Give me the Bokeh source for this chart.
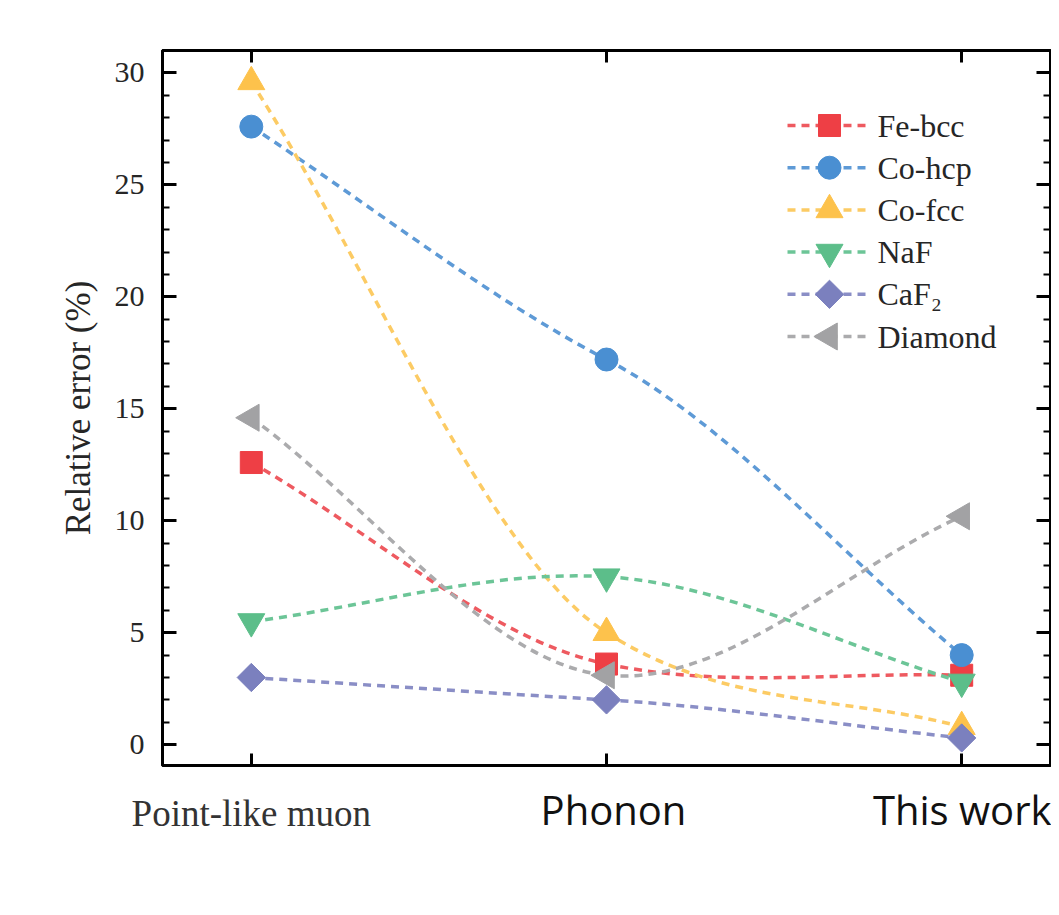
import numpy as np
from bokeh.plotting import figure
from bokeh.models import (Range1d, LinearAxis, FixedTicker, SingleIntervalTicker,
                          ColumnDataSource)
from bokeh.core.properties import value
from bokeh.embed import file_html
from bokeh.resources import INLINE

# ---------------- data ----------------
categories = ["Point-like muon", "Phonon", "This work"]
fe_bcc = [12.6, 3.6, 3.1]
co_hcp = [27.6, 17.2, 4.0]
co_fcc = [29.6, 5.0, 0.8]
naf = [5.5, 7.5, 2.8]
caf2 = [3.0, 2.0, 0.3]
diamond = [14.6, 3.1, 10.2]
series_names = ["Fe-bcc", "Co-hcp", "Co-fcc", "NaF", "CaF\u2082", "Diamond"]

series = [fe_bcc, co_hcp, co_fcc, naf, caf2, diamond]

# ---------------- styles ----------------
colors = ["#EE3F45", "#4A8FD2", "#FDC24C", "#5CBE8A", "#7B80BE", "#A2A2A4"]
line_colors = ["#EE5A60", "#5E9AD6", "#FCCB64", "#6CC597", "#8A8EC6", "#ABABAD"]
markers = [("square", 0.0, 22), ("circle", 0.0, 23), ("triangle", 0.0, 27),
           ("inverted_triangle", 0.0, 27), ("square", np.pi / 4, 20),
           ("triangle", np.pi / 2, 27)]
DASH = "8 6"
LW = 3.5

Y0, Y1 = -0.93, 31.0
X0, X1 = -0.25, 2.25
W, H = 1051, 880
BL, BR, BT, BB = 162, 1, 50, 880 - 765
FRAME_W = W - BL - BR
FRAME_H = H - BT - BB
px_per_x = FRAME_W / (X1 - X0)
px_per_y = FRAME_H / (Y1 - Y0)

p = figure(width=W, height=H, output_backend="svg", toolbar_location=None,
           x_range=Range1d(X0, X1), y_range=Range1d(Y0, Y1),
           min_border_left=BL, min_border_right=BR, min_border_top=BT,
           min_border_bottom=BB, x_axis_location=None, y_axis_location=None)
p.grid.visible = False
p.outline_line_color = "black"
p.outline_line_width = 3
p.background_fill_color = "white"
p.border_fill_color = "white"

TXT = "#262626"
SERIF = "Liberation Serif"


def y_axis(side, labels):
    ax = LinearAxis(ticker=SingleIntervalTicker(interval=5, num_minor_ticks=5))
    ax.axis_line_width = 3
    ax.axis_line_color = "black"
    ax.major_tick_in = 14
    ax.major_tick_out = 0
    ax.minor_tick_in = 7
    ax.minor_tick_out = 0
    ax.major_tick_line_width = 3
    ax.minor_tick_line_width = 2
    if labels:
        ax.major_label_text_font = SERIF
        ax.major_label_text_font_size = "30px"
        ax.major_label_text_color = TXT
        ax.major_label_standoff = 18
        ax.axis_label = "Relative error (%)"
        ax.axis_label_text_font = SERIF
        ax.axis_label_text_font_size = "35px"
        ax.axis_label_text_font_style = "normal"
        ax.axis_label_text_color = TXT
        ax.axis_label_standoff = 14
    else:
        ax.major_label_text_font_size = "0px"
        ax.major_label_text_color = None
        ax.major_label_standoff = 0
    p.add_layout(ax, side)


xs = list(range(len(categories)))

y_axis("left", True)
y_axis("right", False)

# bottom axis 1: ticks + serif label for the first category
ax_a = LinearAxis(ticker=FixedTicker(ticks=xs, minor_ticks=[]))
ax_a.axis_line_width = 3
ax_a.major_tick_in = 12
ax_a.major_tick_out = 0
ax_a.major_tick_line_width = 3
ax_a.major_label_overrides = {xs[0]: categories[0], xs[1]: "", xs[2]: ""}
ax_a.major_label_text_font = SERIF
ax_a.major_label_text_font_size = "37px"
ax_a.major_label_text_color = "#333333"
ax_a.major_label_standoff = 27
p.add_layout(ax_a, "below")

# bottom axis 2: sans-serif labels for the other categories
label_dx_px = [7, 25]
pos_b = [xs[i + 1] + label_dx_px[i] / px_per_x for i in range(2)]
ax_b = LinearAxis(ticker=FixedTicker(ticks=pos_b, minor_ticks=[]))
ax_b.axis_line_color = None
ax_b.major_tick_line_color = None
ax_b.minor_tick_line_color = None
ax_b.major_label_overrides = {pos_b[0]: categories[1], pos_b[1]: categories[2]}
ax_b.major_label_text_font = "Open Sans"
ax_b.major_label_text_font_size = "40px"
ax_b.major_label_text_color = "#111111"
ax_b.major_label_standoff = -61
p.add_layout(ax_b, "below")

# top axis: ticks only
ax_t = LinearAxis(ticker=FixedTicker(ticks=xs, minor_ticks=[]))
ax_t.axis_line_width = 3
ax_t.major_tick_in = 12
ax_t.major_tick_out = 0
ax_t.major_tick_line_width = 3
ax_t.major_label_text_font_size = "0px"
ax_t.major_label_text_color = None
ax_t.major_label_standoff = 0
p.add_layout(ax_t, "above")

# smooth connecting curves (cubic Bezier segments, cardinal-spline tangents)
TENSION = 0.7
for vals, lc in zip(series, line_colors):
    n = len(vals)
    tang = []
    for i in range(n):
        if i == 0:
            tang.append(vals[1] - vals[0])
        elif i == n - 1:
            tang.append(vals[-1] - vals[-2])
        else:
            tang.append(TENSION * 0.5 * (vals[i + 1] - vals[i - 1]))
    src = ColumnDataSource(dict(
        x0=xs[:-1], y0=vals[:-1], x1=xs[1:], y1=vals[1:],
        cx0=[x + 1 / 3 for x in xs[:-1]],
        cy0=[vals[i] + tang[i] / 3 for i in range(n - 1)],
        cx1=[x - 1 / 3 for x in xs[1:]],
        cy1=[vals[i + 1] - tang[i + 1] / 3 for i in range(n - 1)],
    ))
    p.bezier(x0="x0", y0="y0", x1="x1", y1="y1", cx0="cx0", cy0="cy0",
             cx1="cx1", cy1="cy1", source=src, line_color=lc,
             line_width=LW, line_dash=DASH)

for vals, c, (mk, ang, sz) in zip(series, colors, markers):
    p.scatter(xs, vals, marker=mk, angle=ang, size=sz, fill_color=c,
              line_color=c, line_width=1)

# ---------------- legend (drawn in the frame, positioned in pixels) ----------------
LEG_LINE_X0, LEG_LINE_X1, LEG_MARK_X, LEG_TEXT_X = 787, 870, 829, 877
LEG_ROW0, LEG_PITCH = 125, 42.2


def dx(px):
    return X0 + (px - BL) / px_per_x


def dy(py):
    return Y1 - (py - BT) / px_per_y


for k, (name, c, lc, (mk, ang, sz)) in enumerate(zip(series_names, colors, line_colors, markers)):
    yy = dy(LEG_ROW0 + k * LEG_PITCH)
    p.segment(x0=[dx(LEG_LINE_X0)], y0=[yy], x1=[dx(LEG_LINE_X1)], y1=[yy],
              line_color=lc, line_width=LW, line_dash=DASH)
    p.scatter([dx(LEG_MARK_X)], [yy], marker=mk, angle=ang, size=sz,
              fill_color=c, line_color=c, line_width=1)
    p.text([dx(LEG_TEXT_X)], [yy], text=[name], text_font=value(SERIF),
           text_font_size="32px", text_color=TXT, text_baseline="middle",
           text_align="left")

open("out.html", "w").write(file_html(p, INLINE))
